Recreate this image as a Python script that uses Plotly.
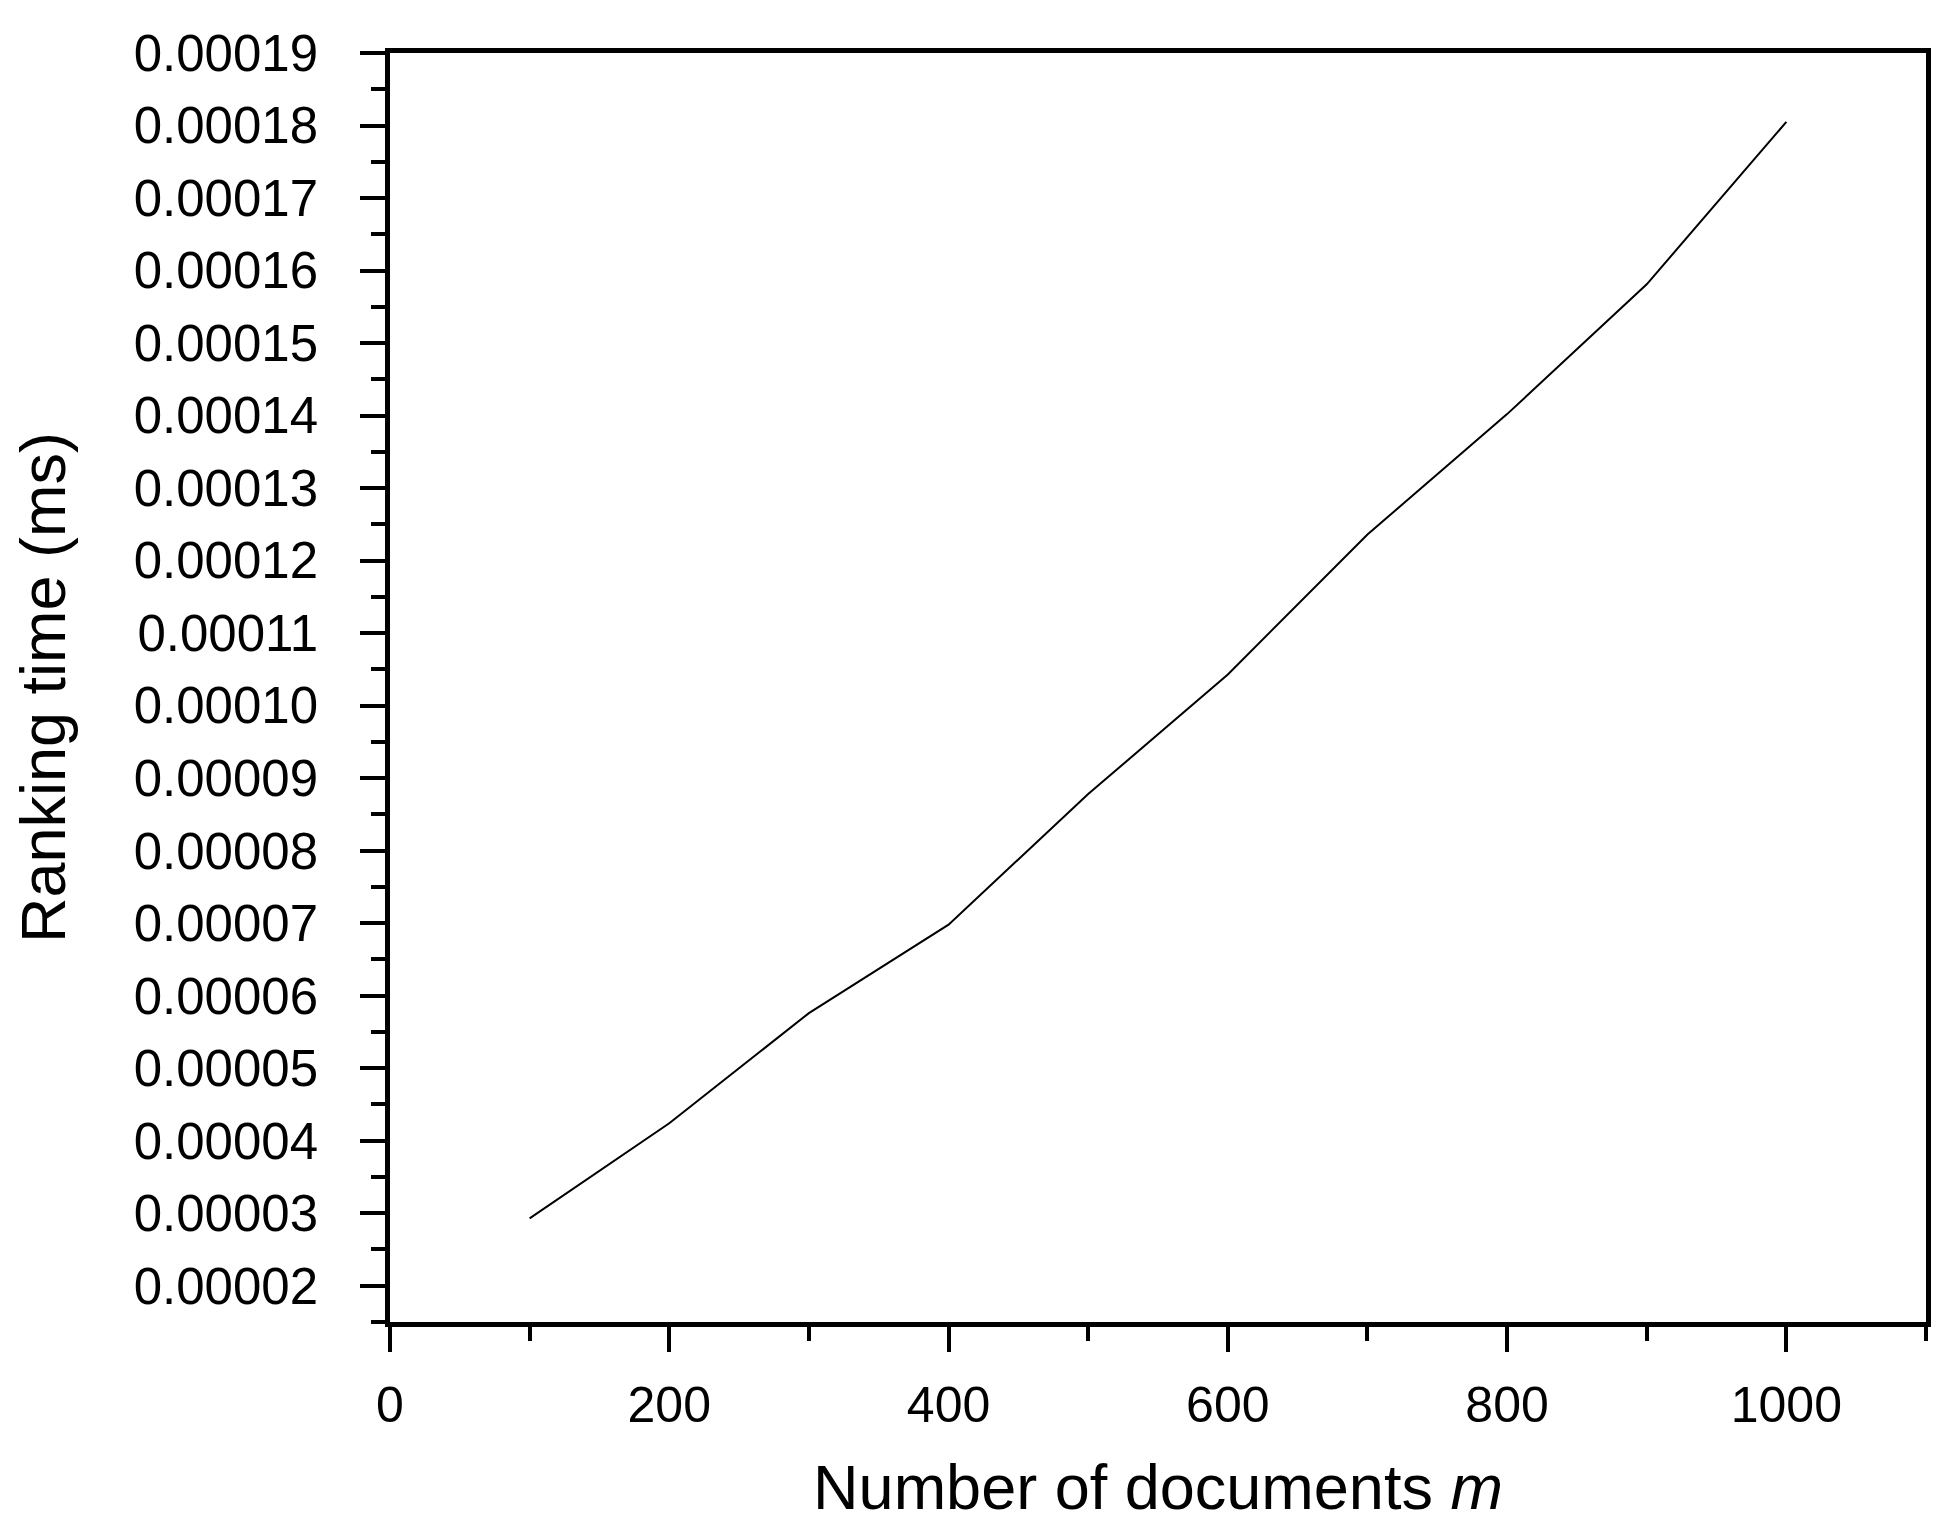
import plotly.graph_objects as go

# Data
num_documents = [100, 200, 300, 400, 500, 600, 700, 800, 900, 1000]
ranking_time_ms = [0.0000293, 0.0000424, 0.0000576, 0.0000698, 0.0000878,
                   0.0001043, 0.0001236, 0.0001402, 0.0001581, 0.0001805]

x_title = "Number of documents <i>m</i>"
y_title = "Ranking time (ms)"

FONT = "Liberation Sans, Arial, sans-serif"

fig = go.Figure()
fig.add_trace(go.Scatter(
    x=num_documents, y=ranking_time_ms, mode="lines",
    line=dict(color="black", width=2), showlegend=False,
))

axis_common = dict(
    showgrid=False, zeroline=False,
    showline=True, linecolor="black", linewidth=4.5, mirror=True,
    ticks="outside", ticklen=25, tickwidth=4, tickcolor="black",
)

fig.update_xaxes(
    **axis_common,
    tickfont=dict(family=FONT, size=50, color="black"),
    range=[0, 1100], tick0=0, dtick=200,
    minor=dict(ticks="outside", dtick=100, tick0=0, ticklen=14, tickwidth=4, tickcolor="black"),
    ticklabelstandoff=10,
    title=dict(text=x_title, font=dict(family=FONT, size=63, color="black"), standoff=35),
)
fig.update_yaxes(
    **axis_common,
    tickfont=dict(family=FONT, size=51, color="black"),
    range=[0.000015, 0.00019], tick0=0, dtick=0.00001, tickformat=".5f",
    minor=dict(ticks="outside", dtick=0.000005, tick0=0, ticklen=14, tickwidth=4, tickcolor="black"),
    ticklabelstandoff=32,
    title=dict(text=y_title, font=dict(family=FONT, size=63, color="black"), standoff=50),
)

fig.update_layout(
    width=1954, height=1530,
    margin=dict(l=382, r=36, t=45, b=216, pad=0),
    paper_bgcolor="white", plot_bgcolor="white",
    font=dict(family=FONT, color="black"),
)

fig.write_html("out.html")
